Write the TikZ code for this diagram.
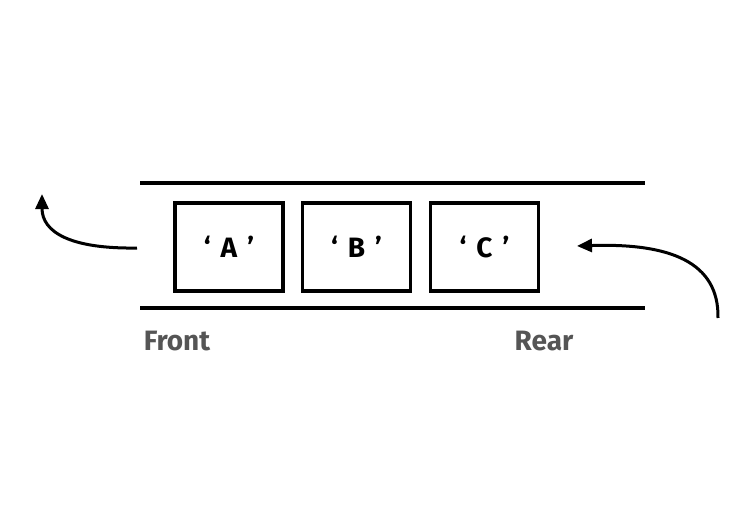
\documentclass[tikz,border=0pt]{standalone}
\usepackage{fontspec}
\setmainfont{Fira Sans}
\usetikzlibrary{arrows.meta}
\definecolor{labelgray}{HTML}{555555}
\newcommand{\quoted}[1]{‘\hspace{10pt}#1\hspace{10pt}’}

\begin{document}
\begin{tikzpicture}[x=1pt,y=-1pt,
  cell/.style={draw,line width=3.5pt,minimum width=108pt,minimum height=88pt,inner sep=0pt,
    font=\bfseries\fontsize{28}{32}\selectfont},
  rail/.style={line width=4pt},
  flow/.style={line width=3pt,-{Triangle[length=15pt,width=13pt]}},
  tag/.style={inner sep=0pt,text=labelgray,font=\bfseries\fontsize{28}{32}\selectfont}]
\useasboundingbox (0,0) rectangle (750,519);

% queue rails
\draw[rail] (140,183) -- (645,183);
\draw[rail] (140,308) -- (645,308);

% elements
\node[cell] (cellA) at (229,247) {\quoted{A}};
\node[cell] (cellB) at (356.5,247) {\quoted{B}};
\node[cell] (cellC) at (484.5,247) {\quoted{C}};

% dequeue / enqueue
\coordinate (outStart) at (137,248);
\coordinate (outEnd) at (42,194);
\draw[flow] (outStart) .. controls (70,249) and (42,232) .. (outEnd);

\coordinate (inStart) at (718,318);
\coordinate (inEnd) at (577,246);
\draw[flow] (inStart) .. controls (719,262) and (670,243) .. (inEnd);

% labels
\node[tag] (front) at (177,341) {Front};
\node[tag] (rear) at (544,341) {Rear};
\end{tikzpicture}
\end{document}
